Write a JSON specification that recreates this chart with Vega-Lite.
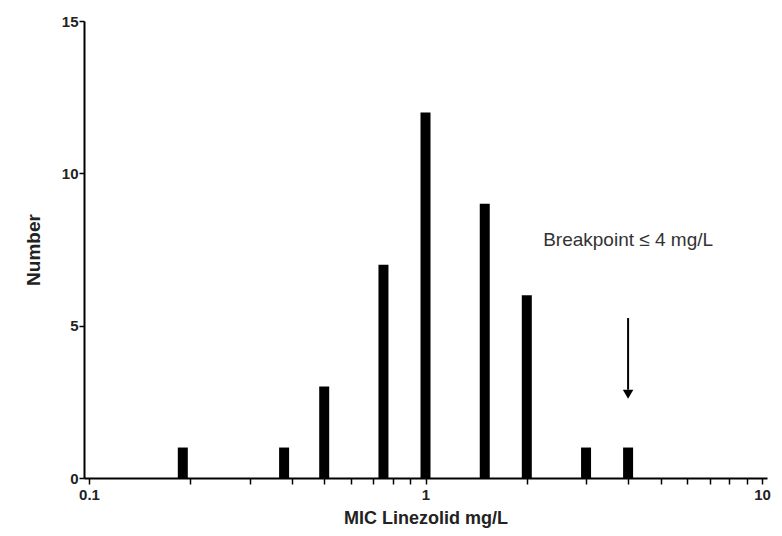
{
  "$schema": "https://vega.github.io/schema/vega-lite/v6.json",
  "width": 683,
  "height": 457,
  "autosize": {"type": "none"},
  "padding": {"left": 84, "top": 21, "right": 15, "bottom": 58},
  "background": "white",
  "config": {
    "view": {"stroke": null},
    "font": "Liberation Sans",
    "axis": {"grid": false, "domainColor": "black", "domainWidth": 2, "tickColor": "black", "tickWidth": 1.5, "labelColor": "#222", "titleColor": "#222", "labelFont": "Liberation Sans", "titleFont": "Liberation Sans"}
  },
  "datasets": {
    "bars": [
      {"mic": 0.19, "count": 1},
      {"mic": 0.38, "count": 1},
      {"mic": 0.5, "count": 3},
      {"mic": 0.75, "count": 7},
      {"mic": 1, "count": 12},
      {"mic": 1.5, "count": 9},
      {"mic": 2, "count": 6},
      {"mic": 3, "count": 1},
      {"mic": 4, "count": 1}
    ],
    "arrow": [
      {"mic": 4, "y1": 5.25, "y2": 2.9, "label": "Breakpoint ≤ 4 mg/L", "ty": 7.8, "ht": 2.75}
    ]
  },
  "layer": [
    {
      "data": {"name": "bars"},
      "mark": {"type": "bar", "color": "black", "size": 10},
      "encoding": {
        "x": {
          "field": "mic", "type": "quantitative",
          "scale": {"type": "log", "domain": [0.1, 10], "nice": false},
          "axis": {
            "title": "MIC Linezolid mg/L",
            "titleFontSize": 18, "titleFontWeight": "bold", "titlePadding": 7,
            "values": [0.1,0.2,0.3,0.4,0.5,0.6,0.7,0.8,0.9,1,2,3,4,5,6,7,8,9,10],
            "labelExpr": "datum.value == 0.1 ? '0.1' : (datum.value == 1 ? '1' : (datum.value == 10 ? '10' : ''))",
            "labelFontSize": 15, "labelFontWeight": "bold", "tickSize": 6, "labelPadding": 3, "labelFlush": false
          }
        },
        "y": {
          "field": "count", "type": "quantitative",
          "scale": {"domain": [0, 15], "nice": false},
          "axis": {
            "title": "Number", "titleFontSize": 19, "titleFontWeight": "bold", "titlePadding": 18,
            "values": [0, 5, 10, 15], "labelFontSize": 15, "labelFontWeight": "bold", "tickSize": 5, "labelPadding": 1
          }
        }
      }
    },
    {
      "data": {"name": "arrow"},
      "mark": {"type": "rule", "color": "black", "strokeWidth": 2},
      "encoding": {
        "x": {"field": "mic", "type": "quantitative"},
        "y": {"field": "y1", "type": "quantitative"},
        "y2": {"field": "y2"}
      }
    },
    {
      "data": {"name": "arrow"},
      "mark": {"type": "point", "shape": "triangle-down", "filled": true, "color": "black", "size": 110, "opacity": 1},
      "encoding": {
        "x": {"field": "mic", "type": "quantitative"},
        "y": {"field": "ht", "type": "quantitative"}
      }
    },
    {
      "data": {"name": "arrow"},
      "mark": {"type": "text", "fontSize": 19, "color": "#333", "align": "center"},
      "encoding": {
        "x": {"field": "mic", "type": "quantitative"},
        "y": {"field": "ty", "type": "quantitative"},
        "text": {"field": "label"}
      }
    }
  ]
}
